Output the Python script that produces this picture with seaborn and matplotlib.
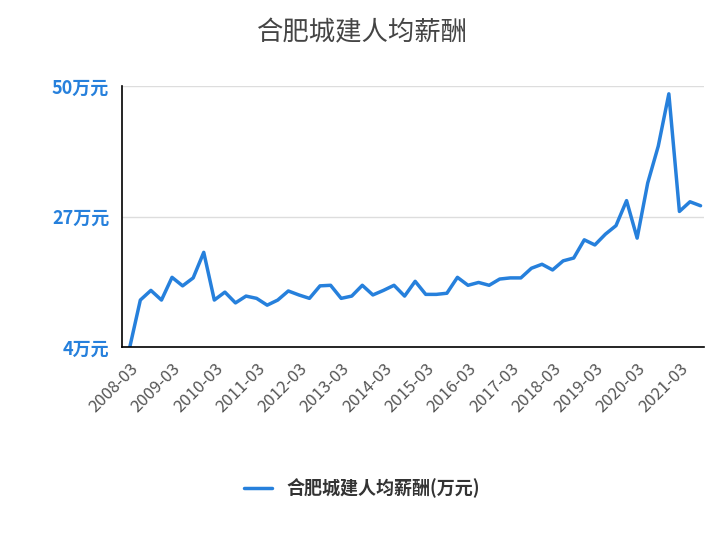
import numpy as np
import pandas as pd
import matplotlib
matplotlib.use("Agg")
import matplotlib.pyplot as plt
import seaborn as sns

# quarterly values, 2008-03 .. 2021-09
quarters = [f"{y}-{m:02d}" for y in range(2008, 2022) for m in (3, 6, 9, 12)][:55]
salary = [4.0, 12.3, 14.0, 12.3, 16.3, 14.8, 16.2, 20.7, 12.3, 13.7,
          11.8, 13.0, 12.6, 11.4, 12.3, 13.9, 13.2, 12.6, 14.8, 14.9,
          12.6, 13.0, 14.9, 13.2, 14.0, 14.9, 13.0, 15.6, 13.3, 13.3,
          13.5, 16.3, 14.9, 15.4, 14.9, 16.0, 16.2, 16.2, 17.9, 18.6,
          17.6, 19.2, 19.7, 22.9, 22.0, 23.9, 25.4, 29.8, 23.2, 32.9,
          39.4, 48.6, 27.9, 29.6, 28.9]
yticks = [4, 27, 50]
ytick_labels = ["4万元", "27万元", "50万元"]

sns.set_theme(style="white")
plt.rcParams['font.family'] = ['Noto Sans CJK SC', 'DejaVu Sans']

df = pd.DataFrame({"idx": range(len(salary)), "value": salary})

fig, ax = plt.subplots(figsize=(7.24, 5.4), dpi=100)
fig.subplots_adjust(left=0.169, right=0.972, top=0.841, bottom=0.357)

sns.lineplot(data=df, x="idx", y="value", ax=ax, color="#2680dc", linewidth=2.5,
             label="合肥城建人均薪酬(万元)")

ax.set_xlim(-0.7, 54.3)
ax.set_ylim(4, 50)
ax.set_yticks(yticks)
ax.set_yticklabels(ytick_labels, color="#2680dc", fontsize=13, fontweight="bold")
xt = list(range(0, 55, 4))
ax.set_xticks(xt)
ax.set_xticklabels([quarters[i] for i in xt], rotation=45, ha="right",
                   rotation_mode="anchor", fontsize=12, color="#555555")
ax.tick_params(axis="both", direction="out", length=6, width=1, color="black")
ax.set_xlabel("")
ax.set_ylabel("")
ax.yaxis.grid(True, color="#dddddd", linewidth=1)
ax.set_axisbelow(True)
for s in ("top", "right"):
    ax.spines[s].set_visible(False)
for s in ("left", "bottom"):
    ax.spines[s].set_color("black")
    ax.spines[s].set_linewidth(1.2)

fig.suptitle("合肥城建人均薪酬", fontsize=19, color="#444444", y=0.965)
handles, labels = ax.get_legend_handles_labels()
ax.get_legend().remove()
leg = fig.legend(handles, labels, loc="center", bbox_to_anchor=(0.5, 0.095),
                 frameon=False, fontsize=13, handlelength=1.6)
for t in leg.get_texts():
    t.set_fontweight("bold")
    t.set_color("#333333")

fig.savefig("out.png", dpi=100)
